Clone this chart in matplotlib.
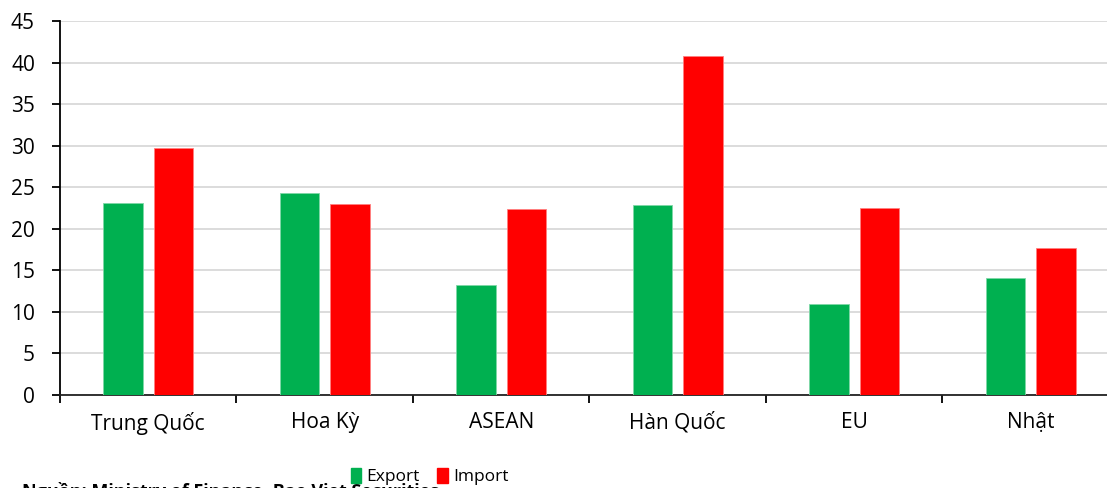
import numpy as np
import matplotlib
matplotlib.use('Agg')
import matplotlib.pyplot as plt
from matplotlib.patches import Patch

# DATA
markets = ['Trung Quốc', 'Hoa Kỳ', 'ASEAN', 'Hàn Quốc', 'EU', 'Nhật']
export_vals = [23.1, 24.3, 13.2, 22.9, 11.0, 14.1]
import_vals = [29.8, 23.0, 22.4, 40.8, 22.5, 17.7]
series_names = ['Export', 'Import']
y_ticks = [0, 5, 10, 15, 20, 25, 30, 35, 40, 45]
source_note = 'Nguồn: Ministry of Finance, Bao Viet Securities'

green = '#00b050'
red = '#ff0000'

plt.rcParams['font.family'] = ['Open Sans', 'DejaVu Sans']

fig = plt.figure(figsize=(11.07, 4.88), dpi=100)
ax = fig.add_axes([0.0542, 0.1906, 0.9566, 0.7654])

x = np.arange(len(markets))
w = 0.224
off = 0.142
ax.bar(x - off, export_vals, w, color=green, edgecolor='#7fd8a7', linewidth=0.6, zorder=3)
ax.bar(x + off, import_vals, w, color=red, edgecolor='#ff8080', linewidth=0.6, zorder=3)

ax.set_xlim(-0.5, len(markets) - 0.5)
ax.set_ylim(0, 45)
ax.set_yticks(y_ticks)
ax.yaxis.grid(True, color='#d9d9d9', linewidth=1.3, zorder=0)
ax.set_axisbelow(True)

# boundary ticks between categories, labels in the middle
ax.set_xticks(np.arange(len(markets) + 1) - 0.5)
ax.set_xticklabels([])
ax.set_xticks(x, minor=True)
ax.set_xticklabels(markets, minor=True)
ax.tick_params(axis='x', which='major', length=6, width=1.3, direction='out')
ax.tick_params(axis='x', which='minor', length=0, pad=12, labelsize=15)
ax.tick_params(axis='y', length=6, width=1.3, direction='out', labelsize=15, pad=12)

for s in ['top', 'right']:
    ax.spines[s].set_visible(False)
ax.spines['left'].set_linewidth(1.3)
ax.spines['bottom'].set_linewidth(1.3)
ax.spines['bottom'].set_color('#222222')

handles = [Patch(color=green), Patch(color=red)]
fig.legend(handles, series_names, loc='center', bbox_to_anchor=(0.388, 0.024),
           ncol=2, frameon=False, fontsize=12.5, handlelength=0.6, handleheight=0.95,
           handletextpad=0.3, columnspacing=1.0, borderaxespad=0)

fig.text(0.02, 0.013, source_note, fontsize=13, fontweight='bold', va='top', ha='left')

fig.savefig('out.png', dpi=100)
